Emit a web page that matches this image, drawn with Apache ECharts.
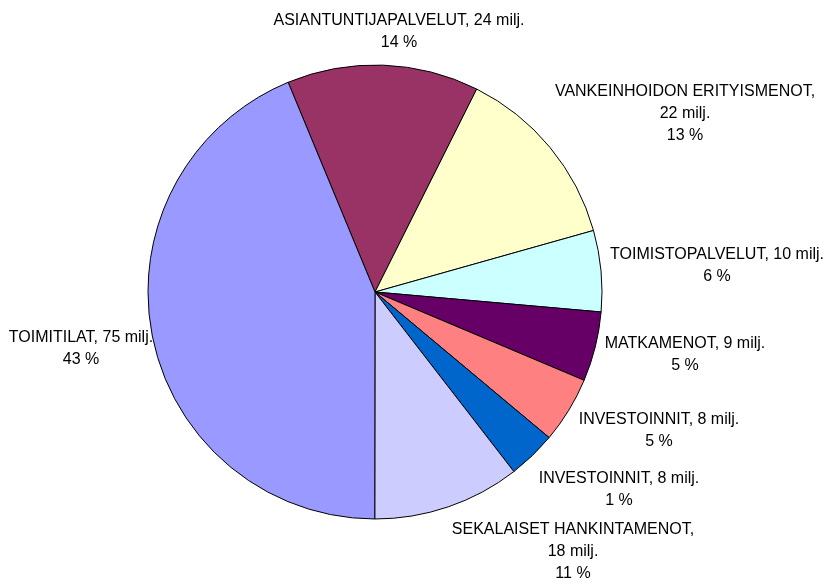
<!DOCTYPE html>
<html>
<head>
<meta charset="utf-8">
<script src="https://cdn.jsdelivr.net/npm/echarts@6/dist/echarts.min.js"></script>
<style>html,body{margin:0;padding:0;background:#fff;}#c{width:832px;height:584px;}</style>
</head>
<body>
<div id="c"></div>
<script>
// Categories in drawing order (clockwise from the top-left boundary)
const categories = ["ASIANTUNTIJAPALVELUT", "VANKEINHOIDON ERITYISMENOT", "TOIMISTOPALVELUT", "MATKAMENOT", "INVESTOINNIT", "INVESTOINNIT", "SEKALAISET HANKINTAMENOT", "TOIMITILAT"];
// Slice sizes as drawn (milj. €)
const sliceValues = [23.4, 22.7, 9.9, 8.5, 8.1, 5.9, 18.0, 75];
// Values and percentages as printed in the labels
const labelMilj = [24, 22, 10, 9, 8, 8, 18, 75];
const labelPct = [14, 13, 6, 5, 5, 1, 11, 43];
const colors = ["#993366", "#FFFFCC", "#CCFFFF", "#660066", "#FF8080", "#0066CC", "#CCCCFF", "#9999FF"];
// Label anchor positions (text block centres), layout only
const labelAnchors = [[399, 32], [685, 114], [717, 265.5], [685, 355], [659, 430.5], [619, 489.5], [573, 552], [81, 348.5]];

const chart = echarts.init(document.getElementById('c'), null, {renderer: 'canvas'});
const data = categories.map((n, i) => ({
  name: n, value: sliceValues[i],
  itemStyle: {color: colors[i]}
}));
chart.setOption({
  animation: false,
  series: [{
    type: 'pie',
    center: [375, 292],
    radius: 227,
    startAngle: 112.5,
    clockwise: true,
    avoidLabelOverlap: false,
    data: data,
    itemStyle: {borderColor: '#000', borderWidth: 1},
    label: {
      show: true,
      position: 'outside',
      color: '#000',
      fontFamily: 'Liberation Sans, Arial, sans-serif',
      fontSize: 16,
      lineHeight: 22,
      align: 'center',
      formatter: p => {
        const i = p.dataIndex;
        const n = categories[i];
        const sep = n.length > 22 ? ',\n' : ', ';
        return n + sep + labelMilj[i] + ' milj.\n' + labelPct[i] + ' %';
      }
    },
    labelLine: {show: false},
    emphasis: {disabled: true},
    labelLayout: p => ({
      x: labelAnchors[p.dataIndex][0],
      y: labelAnchors[p.dataIndex][1],
      align: 'center',
      verticalAlign: 'middle'
    })
  }]
});
</script>
</body>
</html>
